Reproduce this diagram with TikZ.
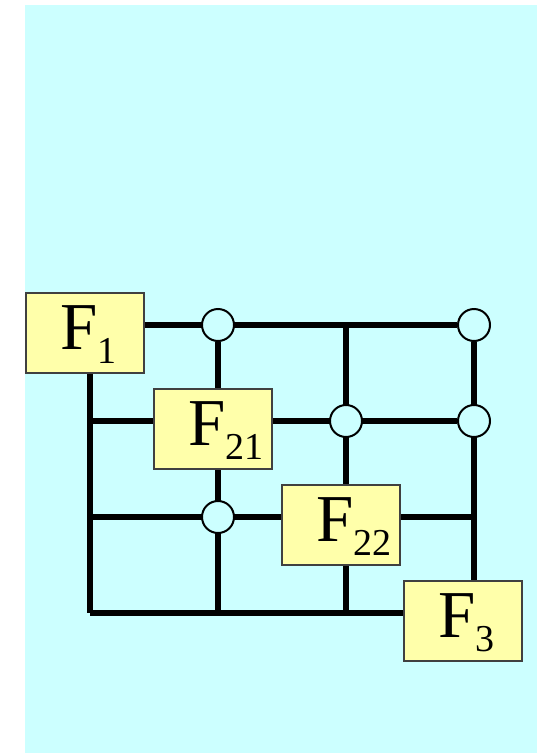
\documentclass[tikz,border=0pt]{standalone}
\usepackage{fontspec}
\setmainfont{Liberation Serif}
\usetikzlibrary{positioning,calc}
\definecolor{bgcyan}{HTML}{CCFFFF}
\definecolor{boxyellow}{HTML}{FFFFAA}
\pgfdeclarelayer{back}
\pgfdeclarelayer{wires}
\pgfsetlayers{back,wires,main}
\newcommand{\blockname}[1]{\makebox[118pt][l]{\rule[-24pt]{0pt}{80pt}\hspace{34.5pt}\fontsize{67}{67}\selectfont F\raisebox{-14pt}{\fontsize{38}{38}\selectfont #1}}}

\begin{document}
\begin{tikzpicture}[x=1pt,y=-1pt,
    wire/.style={line width=5.5pt},
    block/.style={draw=black!75,line width=1.3pt,fill=boxyellow,inner sep=0pt,
        minimum width=118pt,minimum height=80pt},
    tap/.style={circle,draw,line width=2pt,fill=bgcyan,inner sep=0pt,minimum size=32pt}]
\begin{pgfonlayer}{back}
\useasboundingbox (0,0) rectangle (541,755);
\fill[bgcyan] (25,5) rectangle (537,753);
\end{pgfonlayer}
% blocks
\node[block] (f1) at (85,333) {\blockname{1}};
\node[block] (f21) at (213,429) {\blockname{21}};
\node[block] (f22) at (341,525) {\blockname{22}};
\node[block] (f3) at (463,621) {\blockname{3}};
% taps
\node[tap] (t1) at (218,325) {};
\node[tap] (t2) at (474,325) {};
\node[tap] (t3) at (346,421) {};
\node[tap] (t4) at (474,421) {};
\node[tap] (t5) at (218,517) {};
% junctions
\coordinate (r2) at (90,421);
\coordinate (r3) at (90,517);
\coordinate (r4) at (90,613);
\coordinate (top2) at (346,325);
\coordinate (e3) at (474,517);
\begin{pgfonlayer}{wires}
\draw[wire] (f1.center |- t1) -- (t2);
\draw[wire] (r2) -- (t4);
\draw[wire] (r3) -- (e3);
\draw[wire] (r4 |- f1.center) -- (r4);
\draw[wire] (r4) -- (f3.center |- r4);
\draw[wire] (t1) -- (t1 |- r4);
\draw[wire] (top2) -- (top2 |- r4);
\draw[wire] (t2) -- (t2 |- f3.center);
\end{pgfonlayer}
\end{tikzpicture}
\end{document}
